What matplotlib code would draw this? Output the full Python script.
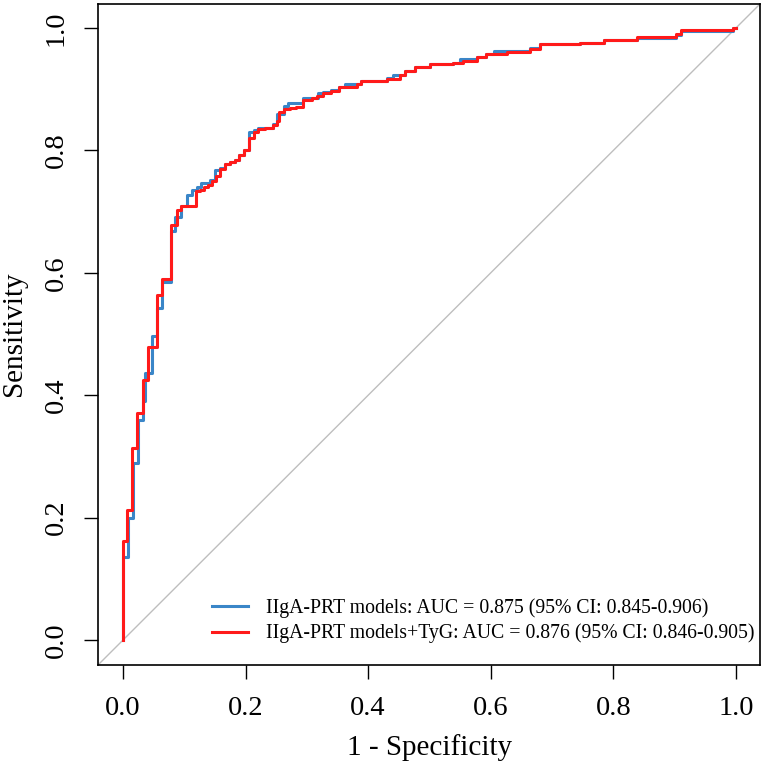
import matplotlib
matplotlib.use("Agg")
import matplotlib.pyplot as plt
import numpy as np

plt.rcParams['font.family'] = ['Liberation Serif', 'DejaVu Serif']

# Step vertices: at each FPR the sensitivity rises to the given value
red_fpr = [0, 0.007, 0.015, 0.023, 0.032, 0.040, 0.055, 0.064, 0.079, 0.088, 0.094, 0.119,
           0.126, 0.132, 0.139, 0.145, 0.152, 0.158, 0.166, 0.175, 0.183, 0.190, 0.198,
           0.206, 0.213, 0.221, 0.232, 0.245, 0.252, 0.254, 0.262, 0.272, 0.283, 0.293,
           0.308, 0.316, 0.327, 0.340, 0.353, 0.381, 0.389, 0.430, 0.452, 0.460, 0.476,
           0.501, 0.539, 0.555, 0.577, 0.593, 0.626, 0.664, 0.680, 0.746, 0.784, 0.838,
           0.903, 0.911, 0.996, 1.0]
red_tpr = [0.162, 0.212, 0.314, 0.371, 0.425, 0.478, 0.564, 0.590, 0.678, 0.703, 0.709, 0.733,
           0.736, 0.740, 0.743, 0.750, 0.758, 0.770, 0.777, 0.781, 0.785, 0.792, 0.800,
           0.821, 0.830, 0.835, 0.837, 0.841, 0.848, 0.863, 0.867, 0.869, 0.871, 0.883,
           0.885, 0.889, 0.893, 0.897, 0.903, 0.909, 0.913, 0.917, 0.923, 0.929, 0.936,
           0.941, 0.942, 0.946, 0.953, 0.957, 0.961, 0.965, 0.974, 0.976, 0.981, 0.986,
           0.990, 0.996, 1.0, 1.0]

blue_fpr = [0, 0.008, 0.016, 0.024, 0.032, 0.036, 0.047, 0.055, 0.063, 0.079, 0.085, 0.095,
            0.104, 0.112, 0.120, 0.127, 0.142, 0.150, 0.158, 0.166, 0.175, 0.183, 0.190,
            0.198, 0.206, 0.213, 0.221, 0.245, 0.252, 0.262, 0.269, 0.293, 0.318, 0.327,
            0.340, 0.353, 0.362, 0.389, 0.430, 0.440, 0.460, 0.476, 0.501, 0.539, 0.550,
            0.577, 0.593, 0.605, 0.634, 0.664, 0.680, 0.746, 0.784, 0.838, 0.903, 0.911,
            0.996, 1.0]
blue_tpr = [0.136, 0.200, 0.289, 0.360, 0.391, 0.436, 0.496, 0.542, 0.585, 0.669, 0.691, 0.709,
            0.727, 0.735, 0.740, 0.746, 0.751, 0.768, 0.772, 0.777, 0.781, 0.785, 0.792,
            0.800, 0.830, 0.834, 0.837, 0.843, 0.860, 0.872, 0.877, 0.885, 0.893, 0.895,
            0.898, 0.903, 0.909, 0.913, 0.918, 0.923, 0.929, 0.936, 0.941, 0.942, 0.950,
            0.953, 0.957, 0.962, 0.963, 0.967, 0.974, 0.976, 0.980, 0.984, 0.988, 0.995,
            1.0, 1.0]

labels = ["IIgA-PRT models: AUC = 0.875 (95% CI: 0.845-0.906)",
          "IIgA-PRT models+TyG: AUC = 0.876 (95% CI: 0.846-0.905)"]
ticks = [0.0, 0.2, 0.4, 0.6, 0.8, 1.0]
tick_labels = ["0.0", "0.2", "0.4", "0.6", "0.8", "1.0"]

fig = plt.figure(figsize=(7.61, 7.64), dpi=100)
ax = fig.add_axes([0.1294, 0.1302, 0.8699, 0.8652])

ax.axline((0, 0), (1, 1), color="#BEBEBE", lw=1.0, zorder=1)
ax.plot([0] + blue_fpr, [0] + blue_tpr, drawstyle="steps-post", color="#3A86C8", lw=2.2,
        label=labels[0], zorder=2)
ax.plot([0] + red_fpr, [0] + red_tpr, drawstyle="steps-post", color="#FF1A1A", lw=2.2,
        label=labels[1], zorder=3)

ax.set_xlim(-0.04, 1.04)
ax.set_ylim(-0.04, 1.04)
ax.set_xticks(ticks)
ax.set_xticklabels(tick_labels)
ax.set_yticks(ticks)
ax.set_yticklabels(tick_labels, rotation=90, va="center")
ax.tick_params(axis="both", direction="out", length=10, width=1.0, labelsize=20.5, colors="black")
ax.tick_params(axis="x", pad=13)
ax.tick_params(axis="y", pad=11.5)
for s in ax.spines.values():
    s.set_linewidth(1.2)

ax.set_xlabel("1 - Specificity", fontsize=21, labelpad=9)
ax.set_ylabel("Sensitivity", fontsize=21, labelpad=12)

leg = ax.legend(loc="lower right", bbox_to_anchor=(1.018, 0.005), frameon=False, fontsize=14.2,
                handlelength=1.85, handletextpad=0.9, labelspacing=0.3)

fig.savefig("out.png", dpi=100)
